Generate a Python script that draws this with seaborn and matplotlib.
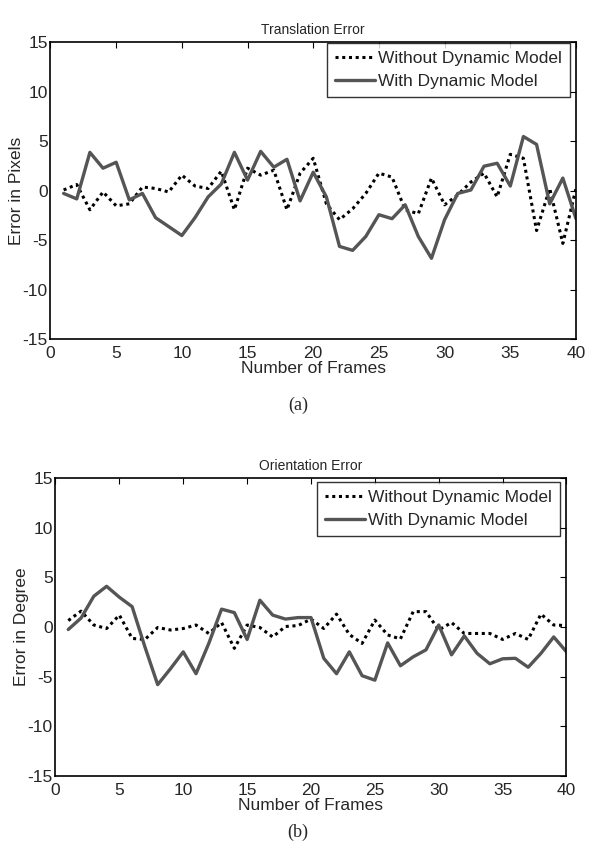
import numpy as np
import pandas as pd
import seaborn as sns
import matplotlib.pyplot as plt

frames = list(range(1, 41))

trans_without = [0.1, 0.65, -1.9, -0.1, -1.5, -1.3, 0.4, 0.25, -0.1, 1.6,
                 0.5, 0.25, 2.0, -1.9, 2.3, 1.6, 2.1, -1.9, 1.8, 3.3,
                 -1.3, -2.9, -1.8, -0.25, 1.8, 1.4, -1.9, -2.3, 1.3, -1.4,
                 -0.4, 0.9, 1.8, -0.6, 3.7, 3.3, -4.0, 0.25, -5.3, 0.25]
trans_with = [-0.25, -0.8, 3.9, 2.3, 2.9, -0.9, -0.25, -2.7, -3.6, -4.5,
              -2.7, -0.6, 0.7, 3.9, 1.1, 4.0, 2.4, 3.2, -1.0, 1.9,
              -0.6, -5.6, -6.0, -4.6, -2.4, -2.8, -1.4, -4.6, -6.8, -2.9,
              -0.25, 0.1, 2.5, 2.8, 0.5, 5.5, 4.7, -1.3, 1.3, -2.8]

orient_without = [0.65, 1.6, 0.2, -0.15, 1.2, -1.15, -1.25, -0.05, -0.3, -0.15,
                  0.2, -0.65, 0.45, -2.15, 0.2, -0.05, -1.0, 0.05, 0.15, 0.8,
                  -0.15, 1.3, -0.75, -1.65, 0.7, -0.8, -1.2, 1.55, 1.55, -0.3,
                  0.45, -0.65, -0.65, -0.65, -1.25, -0.65, -1.25, 1.3, 0.2, 0.15]
orient_with = [-0.25, 0.9, 3.1, 4.1, 3.0, 2.05, -2.0, -5.8, -4.2, -2.5,
               -4.7, -1.65, 1.8, 1.45, -1.25, 2.7, 1.2, 0.8, 0.95, 0.95,
               -3.15, -4.7, -2.5, -4.9, -5.35, -1.6, -3.9, -3.0, -2.3, 0.2,
               -2.8, -0.9, -2.65, -3.7, -3.2, -3.15, -4.05, -2.65, -1.0, -2.5]

sns.set_style("white")
plt.rcParams['font.family'] = ['Liberation Sans', 'DejaVu Sans']
plt.rcParams['axes.unicode_minus'] = False

fig = plt.figure(figsize=(5.96, 8.51), dpi=100)
ax1 = fig.add_axes([0.0847, 0.6011, 0.8817, 0.349])
ax2 = fig.add_axes([0.0931, 0.0881, 0.8574, 0.3502])

FS = 12.5


def draw(ax, without, with_, title, ylabel, legend_anchor):
    sns.lineplot(x=frames, y=without, ax=ax, color='black', lw=2.2,
                 linestyle=(0, (1, 1.2)), label='Without Dynamic Model')
    sns.lineplot(x=frames, y=with_, ax=ax, color='#555555', lw=2.4,
                 label='With Dynamic Model')
    ax.set_xlim(0, 40)
    ax.set_ylim(-15, 15)
    ax.set_xticks(range(0, 41, 5))
    ax.set_yticks(range(-15, 16, 5))
    ax.tick_params(direction='in', length=4, width=0.8, labelsize=FS,
                   top=True, right=True, color='black')
    ax.tick_params(axis='x', pad=5)
    ax.tick_params(axis='y', pad=2)
    for s in ax.spines.values():
        s.set_color('black')
        s.set_linewidth(1.2)
    ax.set_title(title, fontsize=10, pad=6)
    ax.set_xlabel('Number of Frames', fontsize=FS, labelpad=0)
    ax.set_ylabel(ylabel, fontsize=FS, labelpad=-1)
    leg = ax.legend(loc='upper right', bbox_to_anchor=legend_anchor,
                    fontsize=FS, frameon=True, fancybox=False,
                    borderpad=0.45, handlelength=2.3, handletextpad=0.2,
                    labelspacing=0.45, borderaxespad=0)
    leg.get_frame().set_edgecolor('black')
    leg.get_frame().set_linewidth(1.0)


draw(ax1, trans_without, trans_with, 'Translation Error', 'Error in Pixels',
     (0.988, 0.998))
draw(ax2, orient_without, orient_with, 'Orientation Error', 'Error in Degree',
     (0.987, 0.986))

fig.text(0.5, 1 - 405 / 851, '(a)', ha='center', va='center',
         family='Liberation Serif', fontsize=13)
fig.text(0.5, 1 - 832 / 851, '(b)', ha='center', va='center',
         family='Liberation Serif', fontsize=13)

fig.savefig('out.png', dpi=100)
